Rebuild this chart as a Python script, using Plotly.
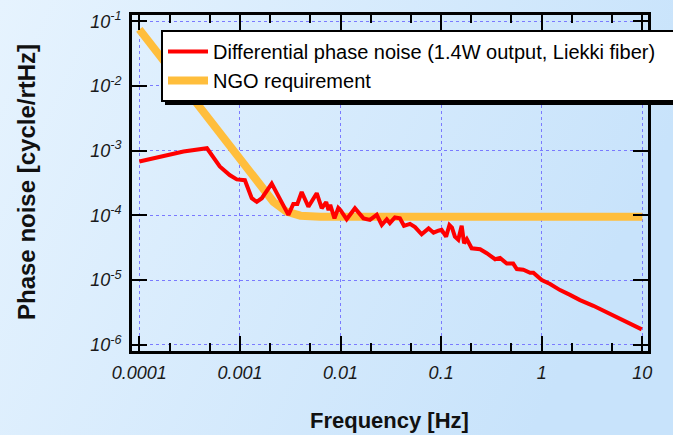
import plotly.graph_objects as go

# ---- data ----
red_f = [1e-4, 1.7e-4, 2.75e-4, 4.7e-4, 6.3e-4, 7.9e-4, 9.3e-4, 1.12e-3, 1.31e-3, 1.47e-3,
         1.65e-3, 2.07e-3, 2.6e-3, 3.03e-3, 3.39e-3, 3.72e-3, 4.11e-3, 4.79e-3, 5.8e-3, 6.5e-3,
         7.2e-3, 7.6e-3, 7.9e-3, 8.7e-3, 9.5e-3, 1.0e-2, 1.15e-2, 1.39e-2, 1.69e-2, 1.96e-2,
         2.29e-2, 2.57e-2, 2.88e-2, 3.09e-2, 3.47e-2, 3.89e-2, 4.27e-2, 4.9e-2, 5.5e-2, 6.4e-2,
         7.5e-2, 8.4e-2, 9.4e-2, 0.101, 0.112, 0.121, 0.128, 0.137, 0.148, 0.160,
         0.169, 0.18, 0.201, 0.244, 0.284, 0.344, 0.385, 0.449, 0.52, 0.565,
         0.656, 0.766, 0.826, 1.0, 1.21, 1.52, 1.91, 2.4, 3.26, 4.43,
         5.15, 6.0, 7.55, 9.86]
red_v = [6.8e-4, 8.1e-4, 9.7e-4, 1.09e-3, 5.7e-4, 4.2e-4, 3.6e-4, 3.5e-4, 1.84e-4, 1.62e-4,
         1.84e-4, 3.1e-4, 1.62e-4, 1.02e-4, 1.5e-4, 1.5e-4, 2.3e-4, 1.36e-4, 2.2e-4, 1.29e-4,
         1.6e-4, 1.2e-4, 1.45e-4, 9e-5, 1.3e-4, 1.2e-4, 8.7e-5, 1.29e-4, 9e-5, 8.5e-5,
         1.02e-4, 7.1e-5, 8.7e-5, 7.6e-5, 9.3e-5, 9e-5, 6.9e-5, 7.4e-5, 6.6e-5, 5.1e-5,
         6.3e-5, 5.4e-5, 5.8e-5, 6e-5, 4.7e-5, 7.1e-5, 6.5e-5, 4.7e-5, 4.2e-5, 6.9e-5,
         3.7e-5, 4.3e-5, 3.1e-5, 3e-5, 2.6e-5, 2.1e-5, 2.2e-5, 1.8e-5, 1.8e-5, 1.48e-5,
         1.45e-5, 1.3e-5, 1.3e-5, 1.0e-5, 8.7e-6, 7e-6, 5.9e-6, 4.9e-6, 4e-6, 3.16e-6,
         2.8e-6, 2.5e-6, 2.15e-6, 1.73e-6]

ngo_f = [1e-4, 2e-4, 3.7e-4, 6.3e-4, 1e-3, 1.58e-3, 2.15e-3, 2.9e-3, 4e-3, 6.3e-3, 1e-2, 10]
ngo_v = [7.5e-2, 1.9e-2, 5.3e-3, 1.75e-3, 7.3e-4, 2.95e-4, 1.62e-4, 1.14e-4, 9.9e-5, 9.5e-5, 9.5e-5, 9.5e-5]

red_name = "Differential phase noise (1.4W output, Liekki fiber)"
ngo_name = "NGO requirement"

x_tickvals = [1e-4, 1e-3, 1e-2, 1e-1, 1, 10]
x_ticktext = ["0.0001", "0.001", "0.01", "0.1", "1", "10"]
y_tickvals = [1e-6, 1e-5, 1e-4, 1e-3, 1e-2, 1e-1]
y_ticktext = ["10<sup>-6</sup>", "10<sup>-5</sup>", "10<sup>-4</sup>", "10<sup>-3</sup>",
              "10<sup>-2</sup>", "10<sup>-1</sup>"]

FONT = "Arial, 'Liberation Sans', sans-serif"
W, H = 673, 435
ML, MR, MT, MB = 132, 25, 15, 84
PW, PH = W - ML - MR, H - MT - MB

fig = go.Figure()
fig.add_trace(go.Scatter(x=ngo_f, y=ngo_v, mode="lines", name=ngo_name, legendrank=2,
                         line=dict(color="#ffbe3c", width=8)))
fig.add_trace(go.Scatter(x=red_f, y=red_v, mode="lines", name=red_name, legendrank=1,
                         line=dict(color="#ff0000", width=4)))

grad_svg = ("data:image/svg+xml;utf8,<svg xmlns='http://www.w3.org/2000/svg' width='100' height='100' "
            "preserveAspectRatio='none'><defs><linearGradient id='g' x1='0' y1='0' x2='1' y2='0.3'>"
            "<stop offset='0' stop-color='%23e6f3fe'/><stop offset='1' stop-color='%23c8e3fb'/>"
            "</linearGradient></defs><rect width='100' height='100' fill='url(%23g)'/></svg>")

axis_common = dict(type="log", showline=True, linecolor="black", linewidth=3, mirror="allticks",
                   ticks="inside", tickcolor="black", tickwidth=2, ticklen=15,
                   showgrid=True, gridcolor="#7a7aff", griddash="dot", gridwidth=1,
                   zeroline=False,
                   tickfont=dict(family=FONT, size=18, color="#1a1a1a", style="italic"))

fig.update_xaxes(**axis_common, range=[-4.073, -4.073 + PW / 100.6],
                 tickvals=x_tickvals, ticktext=x_ticktext,
                 minor=dict(ticks="inside", ticklen=8, tickwidth=2, tickcolor="black", showgrid=False),
                 ticklabelstandoff=3)
fig.update_yaxes(**axis_common, range=[-0.903 - PH / 64.7, -0.903],
                 tickvals=y_tickvals, ticktext=y_ticktext,
                 ticklabelstandoff=4)

fig.add_annotation(text="<b>Frequency [Hz]</b>", xref="paper", yref="paper",
                   x=(389 - ML) / PW, y=(H - MB - 420) / PH, xanchor="center", yanchor="middle",
                   showarrow=False, font=dict(family=FONT, size=22, color="#111"))
fig.add_annotation(text="<b>Phase noise [cycle/rtHz]</b>", xref="paper", yref="paper",
                   x=(26 - ML) / PW, y=(H - MB - 182) / PH, xanchor="center", yanchor="middle",
                   textangle=-90, showarrow=False, font=dict(family=FONT, size=24, color="#111"))

# legend drop shadow (sits behind the legend box, peeking out at the bottom)
fig.add_shape(type="rect", xref="paper", yref="paper", layer="above",
              x0=(165 - ML) / PW, x1=(720 - ML) / PW, y0=(H - MB - 105) / PH, y1=(H - MB - 60) / PH,
              fillcolor="black", line=dict(width=0))

fig.update_layout(
    width=W, height=H,
    margin=dict(l=ML, r=MR, t=MT, b=MB, autoexpand=False),
    paper_bgcolor="#d8ecfd", plot_bgcolor="rgba(0,0,0,0)",
    images=[dict(source=grad_svg, xref="paper", yref="paper", x=-ML / PW, y=1 + MT / PH,
                 sizex=W / PW, sizey=H / PH, sizing="stretch", xanchor="left", yanchor="top",
                 layer="below")],
    showlegend=True,
    legend=dict(x=(161 - ML) / PW, y=(H - MB - 30) / PH, xanchor="left", yanchor="top",
                orientation="h", entrywidth=540, entrywidthmode="pixels",
                bgcolor="white", bordercolor="black", borderwidth=2, itemwidth=40,
                font=dict(family=FONT, size=20, color="black"), tracegroupgap=0),
)

fig.write_html("out.html")
